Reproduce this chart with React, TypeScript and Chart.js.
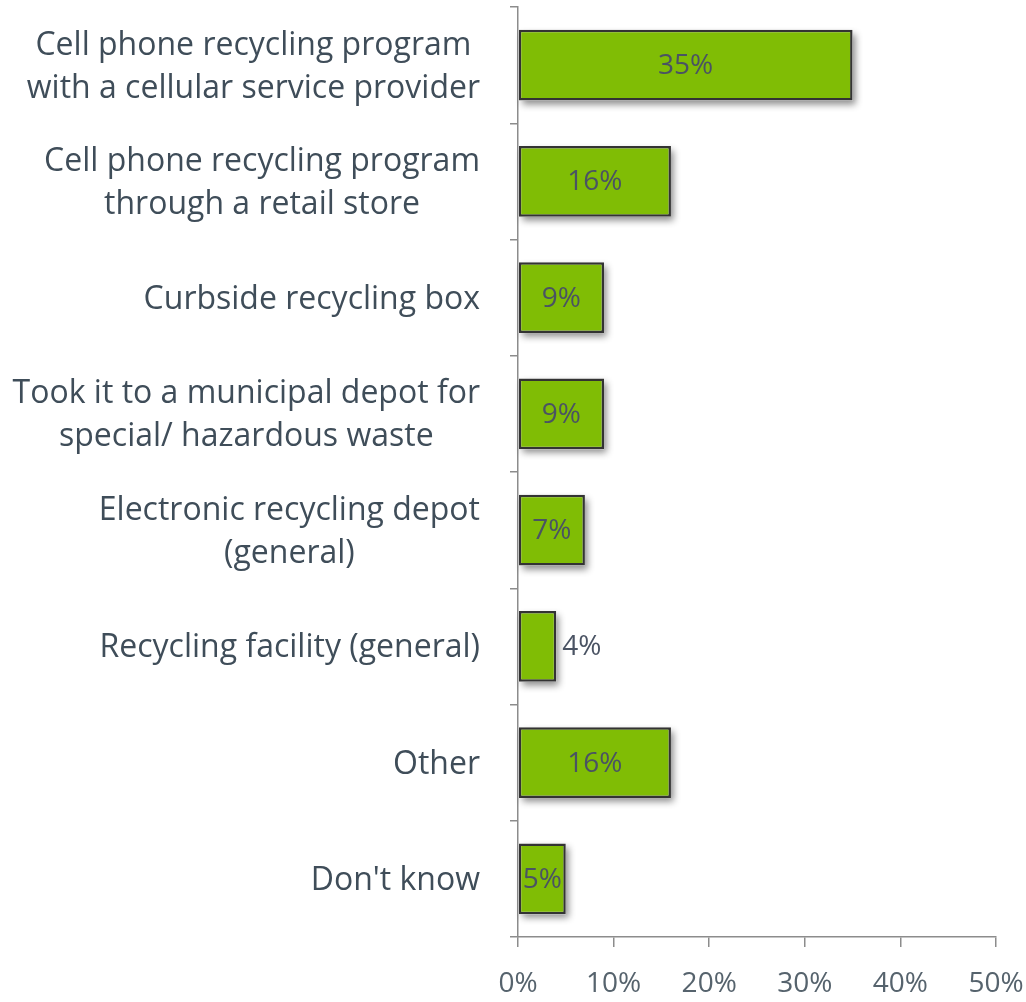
import React, { useEffect, useRef } from "react";
import { Chart, registerables } from "chart.js";

Chart.register(...registerables);

const categories: string[][] = [
  ["Cell phone recycling program", "with a cellular service provider"],
  ["Cell phone recycling program", "through a retail store"],
  ["Curbside recycling box"],
  ["Took it to a municipal depot for", "special/ hazardous waste"],
  ["Electronic recycling depot", "(general)"],
  ["Recycling facility (general)"],
  ["Other"],
  ["Don't know"],
];
const values = [35, 16, 9, 9, 7, 4, 16, 5];
const xTickValues = [0, 10, 20, 30, 40, 50];

const FONT = "'Open Sans', Lato, sans-serif";
const LABEL_COLOR = "#3f4d59";
const AXIS_COLOR = "#8c8c8c";

const shadowPlugin = {
  id: "barShadow",
  beforeDatasetsDraw(chart: any) {
    const ctx = chart.ctx;
    const meta = chart.getDatasetMeta(0);
    meta.data.forEach((bar: any) => {
      const { x, y, base, height } = bar.getProps(["x", "y", "base", "height"], true);
      ctx.save();
      ctx.shadowColor = "rgba(0,0,0,0.45)";
      ctx.shadowBlur = 7;
      ctx.shadowOffsetX = 3;
      ctx.shadowOffsetY = 4;
      ctx.fillStyle = "#ffffff";
      ctx.fillRect(Math.min(base, x), y - height / 2, Math.abs(x - base), height);
      ctx.restore();
    });
  },
};

const valueLabelPlugin = {
  id: "valueLabels",
  afterDatasetsDraw(chart: any) {
    const ctx = chart.ctx;
    const meta = chart.getDatasetMeta(0);
    ctx.save();
    ctx.font = `28px ${FONT}`;
    ctx.fillStyle = "#4a5363";
    ctx.textBaseline = "middle";
    meta.data.forEach((bar: any, i: number) => {
      const { x, y, base } = bar.getProps(["x", "y", "base"], true);
      const text = `${values[i]}%`;
      const w = ctx.measureText(text).width;
      const barW = Math.abs(x - base);
      if (barW >= w + 4) {
        ctx.textAlign = "center";
        ctx.fillText(text, (x + base) / 2, y + 1);
      } else {
        ctx.textAlign = "left";
        ctx.fillText(text, x + 6, y + 1);
      }
    });
    ctx.restore();
  },
};

const yLabelPlugin = {
  id: "yLabels",
  afterDraw(chart: any) {
    const ctx = chart.ctx;
    const scale = chart.scales.y;
    const right = scale.right - 38;
    const lineH = 43;
    ctx.save();
    ctx.font = `32px ${FONT}`;
    ctx.fillStyle = LABEL_COLOR;
    ctx.textAlign = "center";
    ctx.textBaseline = "middle";
    categories.forEach((lines, i) => {
      const cy = scale.getPixelForTick(i) + 2;
      const maxW = Math.max(...lines.map((l) => ctx.measureText(l).width));
      const cx = right - maxW / 2;
      lines.forEach((l, j) => {
        ctx.fillText(l, cx, cy + (j - (lines.length - 1) / 2) * lineH);
      });
    });
    ctx.restore();
  },
};

export default function App() {
  const ref = useRef<HTMLCanvasElement | null>(null);

  useEffect(() => {
    if (!ref.current) return;
    const chart = new Chart(ref.current, {
      type: "bar",
      data: {
        labels: categories.map((c) => c.join(" ")),
        datasets: [
          {
            data: values,
            backgroundColor: "#80bd05",
            borderColor: "#333333",
            borderWidth: 2.5,
            borderSkipped: false,
            barPercentage: 1,
            categoryPercentage: 0.61,
          },
        ],
      },
      options: {
        indexAxis: "y",
        animation: false,
        responsive: true,
        maintainAspectRatio: false,
        layout: { padding: { top: 7, right: 30, left: 0, bottom: 0 } },
        plugins: {
          legend: { display: false },
          tooltip: { enabled: false },
        },
        scales: {
          x: {
            type: "linear",
            min: 0,
            max: 50,
            afterBuildTicks(scale: any) {
              scale.ticks = xTickValues.map((v) => ({ value: v }));
            },
            afterFit(scale: any) {
              scale.height = 65;
              scale.paddingLeft = 0;
              scale.paddingRight = 0;
            },
            grid: {
              drawOnChartArea: false,
              drawTicks: true,
              tickLength: 10,
              color: AXIS_COLOR,
              lineWidth: 1.5,
            },
            border: { display: true, color: AXIS_COLOR, width: 1.5 },
            ticks: {
              padding: 20,
              color: "#56636d",
              font: { family: FONT, size: 28 },
              callback: (v: any) => `${v}%`,
            },
          },
          y: {
            type: "category",
            afterFit(scale: any) {
              scale.width = 518;
              scale.paddingTop = 0;
              scale.paddingBottom = 0;
            },
            grid: {
              offset: true,
              drawOnChartArea: false,
              drawTicks: true,
              tickLength: 8,
              color: AXIS_COLOR,
              lineWidth: 1.5,
            },
            border: { display: true, color: AXIS_COLOR, width: 1.5 },
            ticks: { display: false },
          },
        },
      },
      plugins: [shadowPlugin, valueLabelPlugin, yLabelPlugin],
    });
    return () => chart.destroy();
  }, []);

  return (
    <div style={{ position: "fixed", left: 0, top: 0, width: 1026, height: 1002, background: "#ffffff" }}>
      <canvas ref={ref} />
    </div>
  );
}
